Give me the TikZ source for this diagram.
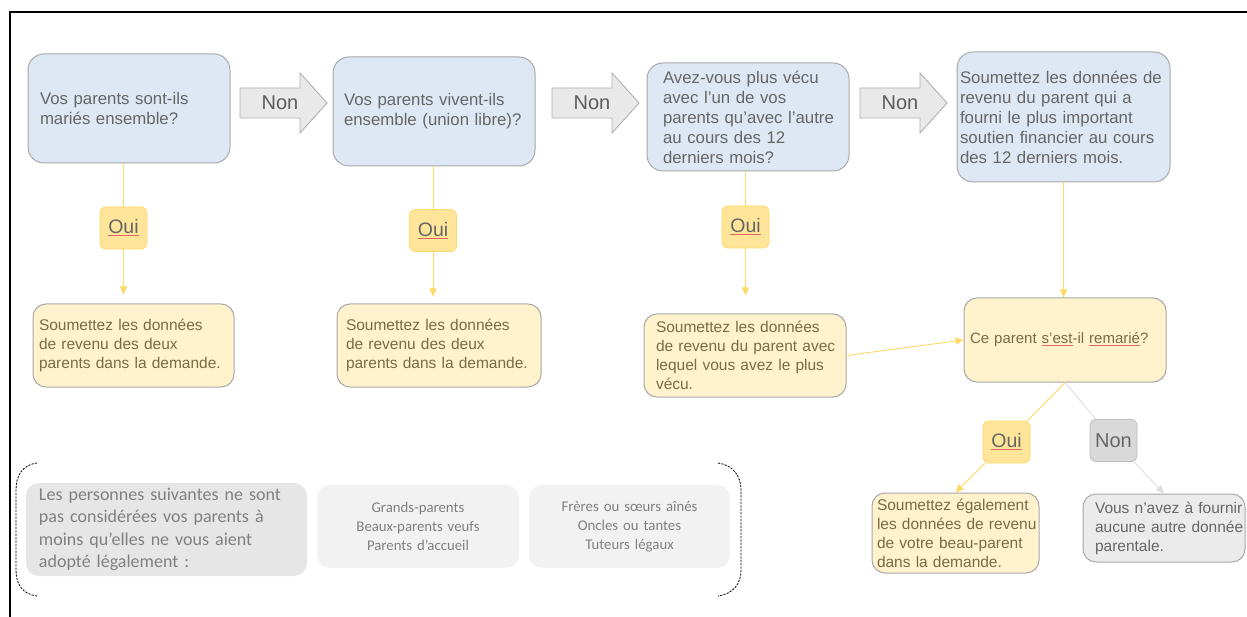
\documentclass[tikz,border=0pt]{standalone}
\usepackage{fontspec}
\setmainfont{Liberation Sans}
\newfontfamily\calfont{Carlito}
\usetikzlibrary{arrows.meta,calc}
\definecolor{blueF}{HTML}{DEE8F4}
\definecolor{bord}{HTML}{A8A8A8}
\definecolor{yelF}{HTML}{FFF2CC}
\definecolor{ouiF}{HTML}{FFE599}
\definecolor{ouiD}{HTML}{FFD966}
\definecolor{txt}{HTML}{666666}
\definecolor{ytxt}{HTML}{7A6B45}
\definecolor{arrF}{HTML}{E9E9E9}
\definecolor{arrD}{HTML}{B0B0B0}
\definecolor{nonF}{HTML}{D9D9D9}
\definecolor{nonD}{HTML}{BDBDBD}
\definecolor{gF}{HTML}{EBEBEB}
\definecolor{gline}{HTML}{DDDDDD}
\definecolor{spell}{HTML}{E06666}
\definecolor{notA}{HTML}{E6E6E6}
\definecolor{notB}{HTML}{F2F2F2}
\definecolor{notT}{HTML}{808080}
\newcommand\padtxt[2]{\leftskip=#1pt\relax #2\par}
\newcommand\spellul[1]{\begingroup\colorlet{keepcol}{.}\color{spell}\underline{\color{keepcol}#1}\endgroup}
\begin{document}
\begin{tikzpicture}[x=1pt,y=-1pt,
  qbox/.style={draw=bord, line width=1pt, fill=blueF, rounded corners=16pt, text=txt,
    inner xsep=0pt, inner ysep=0pt, align=left, font=\fontsize{16.8}{20}\selectfont},
  ybox/.style={qbox, fill=yelF, text=ytxt, rounded corners=13pt, font=\fontsize{15.5}{19}\selectfont},
  gbox/.style={qbox, fill=gF, text=txt, rounded corners=13pt, font=\fontsize{15.5}{19}\selectfont},
  oui/.style={draw=ouiD, line width=0.8pt, fill=ouiF, rounded corners=6pt, minimum width=47pt,
    minimum height=42pt, inner sep=0pt, text=txt, font=\fontsize{19.5}{20}\selectfont},
  nonbox/.style={oui, draw=nonD, fill=nonF, font=\fontsize{20}{20}\selectfont},
  nonarrow/.style={draw=arrD, line width=0.9pt, fill=arrF},
  nontext/.style={text=txt!90!black, font=\fontsize{20}{20}\selectfont, inner sep=0pt},
  yline/.style={draw=ouiD, line width=0.9pt},
  yarrow/.style={yline, -{Triangle[length=8pt,width=7pt]}},
  garrow/.style={draw=gline, line width=0.9pt, -{Triangle[length=8pt,width=7pt]}},
  notbox/.style={fill=#1, rounded corners=13pt, text=notT, inner xsep=0pt, inner ysep=0pt},
  bracket/.style={draw=black, line width=0.8pt, dash pattern=on 2.2pt off 1.2pt}
]
\useasboundingbox (0,0) rectangle (1247,617);
\fill[white] (0,0) rectangle (1247,617);
\draw[line width=2pt] (9.5,617) -- (9.5,12) -- (1247,12);

% question boxes
\node[qbox, text width=202pt, minimum width=202pt, minimum height=109pt] (q1) at (129,108.5)
  {\padtxt{12}{Vos parents sont-ils\\mariés ensemble?}};
\node[qbox, text width=202pt, minimum width=202pt, minimum height=109pt] (q2) at (434,111.5)
  {\padtxt{11}{Vos parents vivent-ils\\ensemble (union libre)?}};
\node[qbox, text width=202pt, minimum width=202pt, minimum height=108pt] (q3) at (748,117)
  {\padtxt{16}{Avez-vous plus vécu\\avec l’un de vos\\parents qu’avec l’autre\\au cours des 12\\derniers mois?}};
\node[qbox, text width=213pt, minimum width=213pt, minimum height=130pt] (q4) at (1063.5,117)
  {\padtxt{3}{Soumettez les données de\\revenu du parent qui a\\fourni le plus important\\soutien financier au cours\\des 12 derniers mois.}};

% Non arrows
\foreach \x/\n in {240/na,552/nb,860/nc}{
  \draw[nonarrow] (\x,88) -- (\x+60,88) -- (\x+60,73) -- (\x+87,103) -- (\x+60,133)
     -- (\x+60,118) -- (\x,118) -- cycle;
  \node[nontext] (\n) at (\x+40,103) {Non};
}

% Oui nodes
\node[oui] (o1) at (123.5,228) {\spellul{Oui}};
\node[oui] (o2) at (433,230.5) {\spellul{Oui}};
\node[oui] (o3) at (745.5,227) {\spellul{Oui}};

% answer boxes
\node[ybox, text width=201pt, minimum width=201pt, minimum height=83pt] (y1) at (133.5,345.5)
  {\padtxt{6}{Soumettez les données\\de revenu des deux\\parents dans la demande.}};
\node[ybox, text width=204pt, minimum width=204pt, minimum height=83pt] (y2) at (439,345.5)
  {\padtxt{9}{Soumettez les données\\de revenu des deux\\parents dans la demande.}};
\node[ybox, text width=202pt, minimum width=202pt, minimum height=83pt] (y3) at (745,355.5)
  {\padtxt{12}{Soumettez les données\\de revenu du parent avec\\lequel vous avez le plus\\vécu.}};
\node[ybox, text width=202pt, minimum width=202pt, minimum height=84pt, font=\fontsize{15}{19}\selectfont] (ce) at (1065,340)
  {\padtxt{6}{Ce parent \spellul{s’est}-il \spellul{remarié}?}};
\node[oui] (o4) at (1006.5,442) {\spellul{Oui}};
\node[nonbox] (n4) at (1113.5,440.5) {Non};
\node[ybox, text width=167pt, minimum width=167pt, minimum height=80pt] (y5) at (955.5,533)
  {\padtxt{5}{Soumettez également\\les données de revenu\\de votre beau-parent\\dans la demande.}};
\node[gbox, text width=162pt, minimum width=162pt, minimum height=68pt] (g5) at (1164,528)
  {\padtxt{12}{Vous n’avez à fournir\\aucune autre donnée\\parentale.}};

% connectors
\draw[yline] (q1.south -| o1) -- (o1);
\draw[yarrow, shorten >=9pt] (o1) -- (o1 |- y1.north);
\draw[yline] (q2.south -| o2) -- (o2);
\draw[yarrow, shorten >=7pt] (o2) -- (o2 |- y2.north);
\draw[yline] (q3.south -| o3) -- (o3);
\draw[yarrow, shorten >=18pt] (o3) -- (o3 |- y3.north);
\draw[yarrow] (q4.south) -- (q4.south |- ce.north);
\draw[yarrow] (y3.east) -- (ce.west);
\draw[yline] (ce.south) -- (o4);
\draw[yarrow] (o4) -- (y5.north);
\draw[draw=gline, line width=0.9pt] (ce.south) -- (n4);
\draw[garrow] (n4) -- (g5.north);

% bottom note
\draw[bracket] (37,463) .. controls (22,465) and (16,476) .. (16,490) -- (16,570)
  .. controls (16,584) and (22,594) .. (37,596);
\draw[bracket] (718,463) .. controls (733,465) and (741,476) .. (741,490) -- (741,570)
  .. controls (741,584) and (733,594) .. (718,596);
\node[notbox=notA, text width=281pt, minimum width=281pt, minimum height=93pt, align=left,
  font=\calfont\fontsize{18}{22.5}\selectfont] (nA) at (166.5,529.5)
  {\padtxt{13}{Les personnes suivantes ne sont\\pas considérées vos parents à\\moins qu’elles ne vous aient\\adopté légalement :}};
\node[notbox=notB, text width=202pt, minimum width=202pt, minimum height=83pt, align=center,
  font=\calfont\fontsize{14.8}{19}\selectfont] (nB) at (418,526.5)
  {Grands-parents\\Beaux-parents veufs\\Parents d’accueil};
\node[notbox=notB, text width=201pt, minimum width=201pt, minimum height=83pt, align=center,
  font=\calfont\fontsize{14.8}{19}\selectfont] (nC) at (629.5,526.5)
  {Frères ou sœurs aînés\\Oncles ou tantes\\Tuteurs légaux};
\end{tikzpicture}
\end{document}
